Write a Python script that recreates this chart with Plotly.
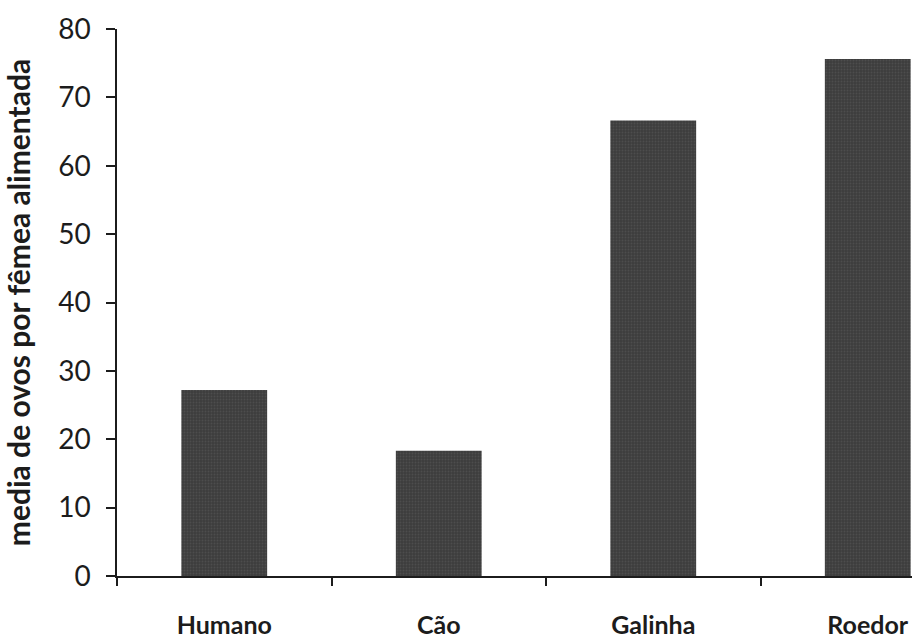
import plotly.graph_objects as go

# Mean number of eggs laid per fed female, by blood-meal host
hosts = ["Humano", "Cão", "Galinha", "Roedor"]
mean_eggs = [27.2, 18.3, 66.6, 75.6]
y_ticks = [0, 10, 20, 30, 40, 50, 60, 70, 80]

FONT = "Lato"
INK = "#1c1c1c"

fig = go.Figure(
    go.Bar(
        x=hosts,
        y=mean_eggs,
        width=0.4,
        marker=dict(
            color="#3d3d3d",
            line=dict(width=0),
            pattern=dict(shape=".", fgcolor="#5e5e5e", size=3, solidity=0.3),
        ),
        hoverinfo="x+y",
    )
)

fig.update_layout(
    width=912,
    height=638,
    margin=dict(l=117, r=0, t=29, b=62),
    paper_bgcolor="white",
    plot_bgcolor="white",
    showlegend=False,
    font=dict(family=FONT, color=INK),
)

fig.update_xaxes(
    type="category",
    range=[-0.5, 3.2063],
    showline=True,
    linecolor=INK,
    linewidth=1.5,
    ticks="outside",
    tickson="boundaries",
    ticklen=8,
    tickwidth=1.5,
    tickcolor=INK,
    showgrid=False,
    zeroline=False,
    tickfont=dict(family=FONT, size=25, color=INK, weight="bold"),
    ticklabelstandoff=26,
)

fig.update_yaxes(
    range=[0, 80],
    tickvals=y_ticks,
    showline=True,
    linecolor=INK,
    linewidth=1.5,
    ticks="outside",
    ticklen=9,
    tickwidth=1.5,
    tickcolor=INK,
    showgrid=False,
    zeroline=False,
    tickfont=dict(family=FONT, size=28, color=INK),
    ticklabelstandoff=10,
    title=dict(
        text="media de ovos por fêmea alimentada",
        font=dict(family=FONT, size=30, color=INK, weight="bold"),
        standoff=19,
    ),
)

fig.write_html("out.html")
